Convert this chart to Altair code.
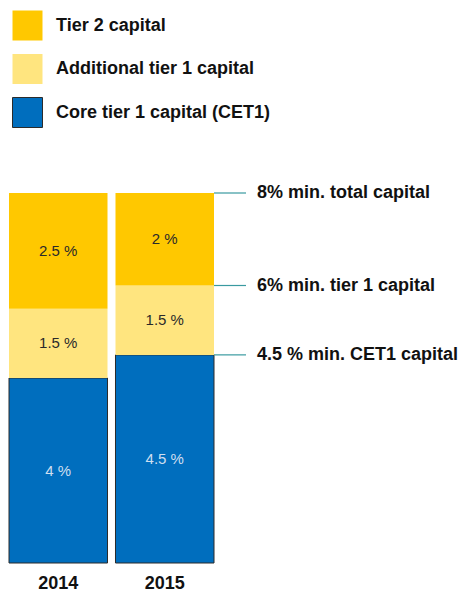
import altair as alt
import pandas as pd

years = ["2014", "2015"]
layers = ["Tier 2 capital", "Additional tier 1 capital", "Core tier 1 capital (CET1)"]
cet1 = [4.0, 4.5]
at1 = [1.5, 1.5]
tier2 = [2.5, 2.0]
label_cet1 = ["4 %", "4.5 %"]
label_at1 = ["1.5 %", "1.5 %"]
label_tier2 = ["2.5 %", "2 %"]
thresholds = [8, 6, 4.5]
threshold_labels = ["8% min. total capital", "6% min. tier 1 capital", "4.5 % min. CET1 capital"]
colors = ["#FFC800", "#FFE57F", "#006EBE"]
strokes = ["transparent", "transparent", "#2b2b2b"]

FONT = "Liberation Sans"

rows = []
for i, yr in enumerate(years):
    parts = [(layers[2], cet1, label_cet1), (layers[1], at1, label_at1), (layers[0], tier2, label_tier2)]
    for order, (layer, vals, labs) in enumerate(parts):
        rows.append(dict(year=yr, layer=layer, value=vals[i], label=labs[i], order=order))
df = pd.DataFrame(rows)
df_t = pd.DataFrame({"t": thresholds, "label": threshold_labels})
df_y = pd.DataFrame({"year": years})

yscale = alt.Scale(domain=[0, 8], range=[555, 185])
xscale = alt.Scale(domain=years, range=[1, 206], paddingInner=0.075, paddingOuter=0)
legend = alt.Legend(title=None)

bars = alt.Chart(df).mark_bar(strokeWidth=1).encode(
    x=alt.X("year:N", scale=xscale, axis=None),
    y=alt.Y("value:Q", stack="zero", scale=yscale, axis=None),
    order=alt.Order("order:Q"),
    fill=alt.Fill("layer:N", scale=alt.Scale(domain=layers, range=colors), legend=legend),
    stroke=alt.Stroke("layer:N", scale=alt.Scale(domain=layers, range=strokes), legend=legend),
)

labels = alt.Chart(df).transform_stack(
    stack="value", groupby=["year"], sort=[alt.SortField("order")], as_=["y0", "y1"]
).transform_calculate(mid="(datum.y0 + datum.y1) / 2").mark_text(
    font=FONT, fontSize=15
).encode(
    x=alt.X("year:N", scale=xscale, axis=None),
    y=alt.Y("mid:Q", scale=yscale, axis=None),
    text="label:N",
    color=alt.condition(alt.datum.order == 0, alt.value("#cfdff0"), alt.value("#2a2a2a")),
)

year_text = alt.Chart(df_y).mark_text(font=FONT, fontSize=18, fontWeight="bold", color="#111").encode(
    x=alt.X("year:N", scale=xscale, axis=None),
    y=alt.value(576),
    text="year:N",
)

rules = alt.Chart(df_t).mark_rule(color="#3a9aa0", strokeWidth=1.2).encode(
    x=alt.value(206), x2=alt.value(238),
    y=alt.Y("t:Q", scale=yscale, axis=None),
)

ann = alt.Chart(df_t).mark_text(font=FONT, fontSize=18, fontWeight="bold", align="left", baseline="middle", color="#111").encode(
    x=alt.value(249),
    y=alt.Y("t:Q", scale=yscale, axis=None),
    text="label:N",
)

chart = alt.layer(bars, labels, year_text, rules, ann).properties(
    width=451, height=586, padding=0, autosize="none"
).configure_view(stroke=None).configure_legend(
    orient="none", legendX=4, legendY=2, symbolType="square", symbolSize=900,
    symbolStrokeWidth=1, labelFont=FONT, labelFontSize=18, labelFontWeight="bold",
    labelColor="#111", labelOffset=13, rowPadding=8.5, padding=0, symbolOpacity=1,
    labelLimit=400,
)

chart.save("out.html", embed_options={"renderer": "svg", "actions": False})
